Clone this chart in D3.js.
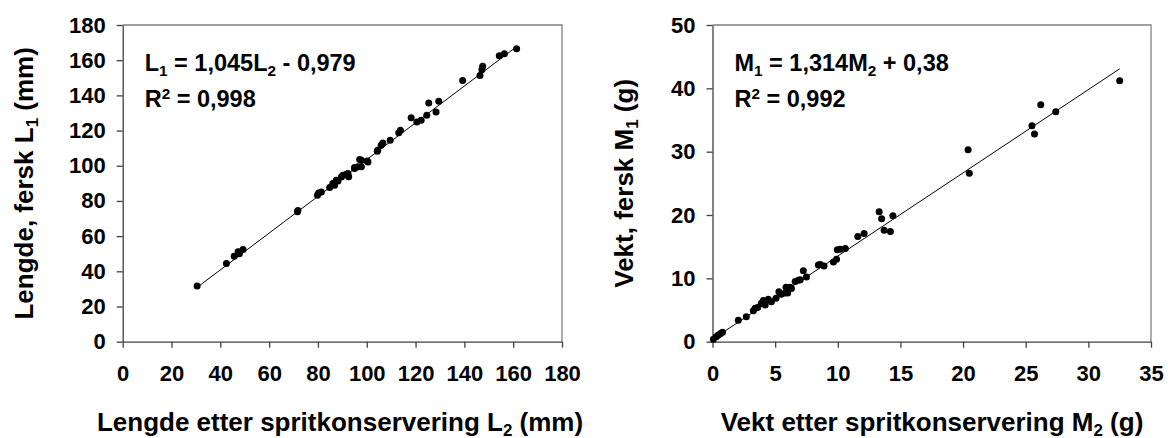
<!DOCTYPE html>
<html>
<head>
<meta charset="utf-8">
<script src="https://cdn.jsdelivr.net/npm/d3@7"></script>
<style>
  body { margin: 0; background: #fff; }
  svg text { font-family: Arial, "Liberation Sans", sans-serif; font-weight: bold; fill: #000; }
</style>
</head>
<body>
<div id="main"></div>
<script>
// lengde: etter spritkonservering (L2) og fersk (L1), mm
const lenX = [30.5, 42.5, 45.7, 47.3, 47.8, 49.3, 71.6, 71.8, 79.8, 80.3, 81.4, 84.8, 86.1, 86.8, 87.5, 88.2,
  89.6, 90.2, 91.6, 92.3, 92.6, 95.0, 95.0, 96.4, 97.1, 97.8, 97.8, 100.2, 100.5, 104.3, 104.5, 105.9,
  106.6, 109.6, 113.1, 113.8, 118.2, 120.5, 122.3, 124.6, 125.4, 128.4, 129.5, 139.3, 146.4, 147.2,
  147.5, 154.3, 156.4, 161.4];
const lenY = [31.6, 44.5, 48.6, 51.1, 50.0, 52.4, 73.8, 74.6, 83.3, 84.5, 85.1, 87.6, 89.9, 88.9, 91.8, 91.4,
  93.6, 94.6, 95.2, 95.6, 93.8, 99.0, 98.4, 99.4, 103.5, 103.1, 99.4, 102.7, 102.2, 108.2, 108.8, 111.6,
  112.9, 114.5, 118.7, 120.2, 127.3, 124.9, 125.8, 128.7, 135.6, 130.5, 136.6, 148.5, 151.3, 154.5,
  156.5, 162.5, 163.7, 166.5];

// vekt: etter spritkonservering (M2) og fersk (M1), g
const massX = [0.07, 0.3, 0.47, 0.65, 0.8, 2.06, 2.7, 3.26, 3.4, 3.6, 3.9, 4.06, 4.2, 4.45, 4.7, 5.07,
  5.3, 5.5, 5.8, 5.87, 6.0, 6.2, 6.3, 6.6, 6.85, 7.0, 7.25, 7.5, 8.45, 8.6, 8.9, 9.65, 9.9, 9.96, 10.2,
  10.6, 11.6, 12.1, 13.3, 13.5, 14.4, 13.7, 14.2, 20.4, 20.5, 25.5, 25.7, 26.2, 27.4, 32.5];
const massY = [0.4, 0.8, 1.06, 1.3, 1.5, 3.4, 3.95, 4.9, 5.3, 5.4, 6.06, 6.5, 5.8, 6.7, 6.3, 6.85,
  7.9, 7.5, 7.7, 8.6, 7.7, 8.6, 8.4, 9.5, 9.7, 9.8, 11.2, 10.2, 12.1, 12.2, 11.95, 12.6, 13.0, 14.5, 14.6,
  14.7, 16.6, 17.1, 20.5, 19.4, 19.9, 17.6, 17.4, 30.3, 26.6, 34.1, 32.8, 37.4, 36.3, 41.2];

const lenTicksX = [0, 20, 40, 60, 80, 100, 120, 140, 160, 180];
const lenTicksY = [0, 20, 40, 60, 80, 100, 120, 140, 160, 180];
const massTicksX = [0, 5, 10, 15, 20, 25, 30, 35];
const massTicksY = [0, 10, 20, 30, 40, 50];

const lenFit = { a: 1.045, b: -0.979 };
const massFit = { a: 1.314, b: 0.38 };

const W = 1168, H = 438;
const TOP = 25, BOTTOM = 341.7;
const TICK_FONT = 22, EQ_FONT = 23.5, TITLE_FONT = 26;

const svg = d3.select("#main").append("svg")
  .attr("width", W).attr("height", H);

// tekst med senket/hevet skrift: deler = [[tekst, "sub"|"sup"|null], ...]
function richText(g, parts, size) {
  parts.forEach(function(p) {
    const t = g.append("tspan").text(p[0]);
    if (p[1] === "sub") {
      t.attr("font-size", size * 0.65).attr("baseline-shift", -size * 0.2);
    } else if (p[1] === "sup") {
      t.attr("font-size", size * 0.65).attr("baseline-shift", size * 0.35);
    }
  });
}

function drawPanel(cfg) {
  const x = d3.scaleLinear().domain(cfg.xDomain).range([cfg.left, cfg.right]);
  const y = d3.scaleLinear().domain(cfg.yDomain).range([BOTTOM, TOP]);
  const g = svg.append("g");

  // ramme
  g.append("path")
    .attr("d", `M${cfg.left},${TOP}H${cfg.right}V${BOTTOM}`)
    .attr("fill", "none").attr("stroke", "#808080").attr("stroke-width", 1.3);

  const ax = g.append("g").attr("transform", `translate(0,${BOTTOM})`)
    .call(d3.axisBottom(x).tickValues(cfg.xTicks).tickSize(6).tickPadding(18).tickSizeOuter(0));
  const ay = g.append("g").attr("transform", `translate(${cfg.left},0)`)
    .call(d3.axisLeft(y).tickValues(cfg.yTicks).tickSize(6).tickPadding(11).tickSizeOuter(0));
  [ax, ay].forEach(function(a) {
    a.selectAll("path, line").attr("stroke", "#404040").attr("stroke-width", 1.3);
    a.selectAll("text").attr("font-size", TICK_FONT).attr("font-family", null);
  });

  // regresjonslinje
  const xs = d3.extent(cfg.xs);
  g.append("line")
    .attr("x1", x(xs[0])).attr("y1", y(cfg.fit.a * xs[0] + cfg.fit.b))
    .attr("x2", x(xs[1])).attr("y2", y(cfg.fit.a * xs[1] + cfg.fit.b))
    .attr("stroke", "#000").attr("stroke-width", 1);

  g.selectAll("circle.pt")
    .data(cfg.xs.map((v, i) => [v, cfg.ys[i]]))
    .enter().append("circle")
    .attr("class", "pt")
    .attr("cx", d => x(d[0])).attr("cy", d => y(d[1]))
    .attr("r", 3.5).attr("fill", "#000");

  // likning og R²
  richText(g.append("text").attr("x", cfg.left + 22).attr("y", 71).attr("font-size", EQ_FONT), cfg.eq, EQ_FONT);
  richText(g.append("text").attr("x", cfg.left + 22).attr("y", 107).attr("font-size", EQ_FONT),
    [["R", null], ["2", "sup"], [" = " + cfg.r2, null]], EQ_FONT);

  // aksetitler
  richText(g.append("text").attr("x", cfg.xTitleX).attr("y", 431)
    .attr("text-anchor", "middle").attr("font-size", TITLE_FONT), cfg.xTitle, TITLE_FONT);
  richText(g.append("text")
    .attr("transform", `translate(${cfg.yTitleX},${(TOP + BOTTOM) / 2}) rotate(-90)`)
    .attr("text-anchor", "middle").attr("font-size", TITLE_FONT), cfg.yTitle, TITLE_FONT);
}

drawPanel({
  left: 122.7, right: 562, xDomain: [0, 180], yDomain: [0, 180],
  xTicks: lenTicksX, yTicks: lenTicksY, xs: lenX, ys: lenY, fit: lenFit,
  eq: [["L", null], ["1", "sub"], [" = 1,045L", null], ["2", "sub"], [" - 0,979", null]],
  r2: "0,998",
  xTitle: [["Lengde etter spritkonservering L", null], ["2", "sub"], [" (mm)", null]],
  xTitleX: 340,
  yTitle: [["Lengde, fersk L", null], ["1", "sub"], [" (mm)", null]],
  yTitleX: 33
});

drawPanel({
  left: 712.5, right: 1151, xDomain: [0, 35], yDomain: [0, 50],
  xTicks: massTicksX, yTicks: massTicksY, xs: massX, ys: massY, fit: massFit,
  eq: [["M", null], ["1", "sub"], [" = 1,314M", null], ["2", "sub"], [" + 0,38", null]],
  r2: "0,992",
  xTitle: [["Vekt etter spritkonservering M", null], ["2", "sub"], [" (g)", null]],
  xTitleX: 932,
  yTitle: [["Vekt, fersk M", null], ["1", "sub"], [" (g)", null]],
  yTitleX: 633
});
</script>
</body>
</html>
